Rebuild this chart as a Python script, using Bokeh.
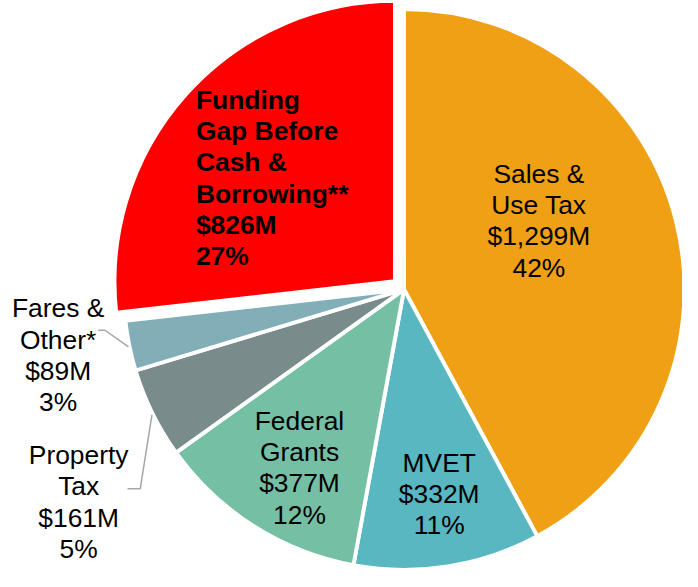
import math
from bokeh.plotting import figure
from bokeh.models import Range1d, ColumnDataSource
from bokeh.core.properties import value
from bokeh.embed import file_html
from bokeh.resources import INLINE

# ---- data ----
categories = ["Sales & Use Tax", "MVET", "Federal Grants", "Property Tax",
              "Fares & Other*", "Funding Gap Before Cash & Borrowing**"]
values = [1299, 332, 377, 161, 89, 826]
name_lines = [["Sales &", "Use Tax"], ["MVET"], ["Federal", "Grants"],
              ["Property", "Tax"], ["Fares &", "Other*"],
              ["Funding", "Gap Before", "Cash &", "Borrowing**"]]
colors = ["#F0A014", "#58B7C0", "#75BFA5", "#798B8B", "#81AEB7", "#FF0000"]
exploded = [0, 0, 0, 0, 0, 12.5]

# ---- layout (reference pixel coordinates; data y = -pixel y) ----
REF_W, REF_H = 698, 587
W, H = 682, 571
S = W / REF_W
CX, CY, R = 413, 297, 287
label_pos = [  # (x, first baseline, align)
    (551, 188, "center"),
    (449, 485, "center"),
    (306, 442, "center"),
    (80, 477, "center"),
    (59, 326, "center"),
    (200, 112, "left"),
]
LINE_H = 32
CAP_MID = 9.5   # distance from baseline up to the middle of capitals
FONT_PX = 27 * S

p = figure(width=W, height=H, output_backend="svg", toolbar_location=None,
           x_range=Range1d(0, REF_W), y_range=Range1d(-REF_H, 0),
           min_border=0, x_axis_location=None, y_axis_location=None)
p.grid.visible = False
p.outline_line_color = None
p.background_fill_color = "white"

total = sum(values)
cum = 0
xs, ys, starts, ends = [], [], [], []
for v, ex in zip(values, exploded):
    t1 = cum / total * 2 * math.pi
    cum += v
    t2 = cum / total * 2 * math.pi
    tm = (t1 + t2) / 2
    xs.append(CX + ex * math.sin(tm))
    ys.append(-(CY - ex * math.cos(tm)))
    starts.append(math.pi / 2 - t2)
    ends.append(math.pi / 2 - t1)

src = ColumnDataSource(dict(x=xs, y=ys, s=starts, e=ends, c=colors))
p.wedge(x="x", y="y", radius=R, start_angle="s", end_angle="e",
        fill_color="c", line_color="white", line_width=4 * S, source=src)

# leader lines
p.line(x=[100, 107, 131], y=[-339, -339, -356], line_color="#A6A6A6", line_width=1.5)
p.line(x=[155, 143, 130], y=[-426, -502, -502], line_color="#A6A6A6", line_width=1.5)

# labels
for i, (v, names) in enumerate(zip(values, name_lines)):
    pct = round(v / total * 100)
    lines = names + [f"${v:,}M", f"{pct}%"]
    x0, y0, align = label_pos[i]
    tx = [x0] * len(lines)
    ty = [-(y0 - CAP_MID + k * LINE_H) for k in range(len(lines))]
    p.text(x=tx, y=ty, text=lines, text_align=align, text_baseline="middle",
           text_font=value("Liberation Sans"), text_font_size=f"{FONT_PX:.1f}px",
           text_font_style="bold" if i == 5 else "normal", text_color="black")

open("out.html", "w").write(file_html(p, INLINE))
